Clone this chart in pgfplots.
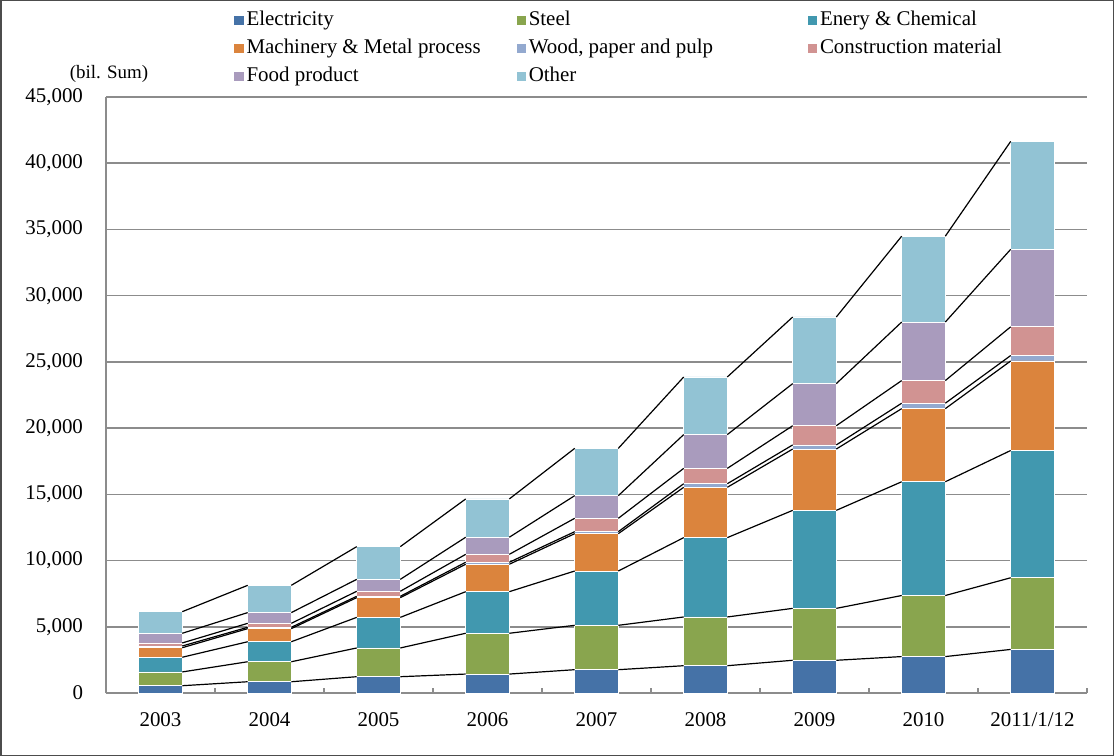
\documentclass[border=0pt]{standalone}
\usepackage{fontspec}
\setmainfont{Liberation Serif}
\usepackage{pgfplots}
\pgfplotsset{compat=1.18}
\usepackage{pgfplotstable}
\definecolor{cElec}{HTML}{4572A7}
\definecolor{cSteel}{HTML}{89A54E}
\definecolor{cEnergy}{HTML}{4198AF}
\definecolor{cMach}{HTML}{DB843D}
\definecolor{cWood}{HTML}{93A9CF}
\definecolor{cConstr}{HTML}{D19392}
\definecolor{cFood}{HTML}{A99BBD}
\definecolor{cOther}{HTML}{92C3D4}
\definecolor{cGrid}{HTML}{8C8C8C}

\pgfplotstableread{
x elec steel energy mach wood constr food other
0 550 1040 1110 720 130 230 730 1630
1 850 1510 1510 990 100 300 810 2060
2 1230 2170 2310 1490 100 380 900 2470
3 1430 3080 3140 2070 150 600 1290 2890
4 1760 3350 4100 2820 150 1010 1710 3570
5 2060 3680 5990 3800 270 1160 2550 4350
6 2470 3920 7400 4630 310 1450 3180 5030
7 2750 4610 8590 5520 410 1710 4420 6480
8 3290 5410 9610 6760 410 2170 5850 8150
}\segs

% cumulative tops, used for the series lines between bars
\pgfplotstableread{
x c1 c2 c3 c4 c5 c6 c7 c8
0.2 550 1590 2700 3420 3550 3780 4510 6140
0.8 850 2360 3870 4860 4960 5260 6070 8130
nan nan nan nan nan nan nan nan nan
1.2 850 2360 3870 4860 4960 5260 6070 8130
1.8 1230 3400 5710 7200 7300 7680 8580 11050
nan nan nan nan nan nan nan nan nan
2.2 1230 3400 5710 7200 7300 7680 8580 11050
2.8 1430 4510 7650 9720 9870 10470 11760 14650
nan nan nan nan nan nan nan nan nan
3.2 1430 4510 7650 9720 9870 10470 11760 14650
3.8 1760 5110 9210 12030 12180 13190 14900 18470
nan nan nan nan nan nan nan nan nan
4.2 1760 5110 9210 12030 12180 13190 14900 18470
4.8 2060 5740 11730 15530 15800 16960 19510 23860
nan nan nan nan nan nan nan nan nan
5.2 2060 5740 11730 15530 15800 16960 19510 23860
5.8 2470 6390 13790 18420 18730 20180 23360 28390
nan nan nan nan nan nan nan nan nan
6.2 2470 6390 13790 18420 18730 20180 23360 28390
6.8 2750 7360 15950 21470 21880 23590 28010 34490
nan nan nan nan nan nan nan nan nan
7.2 2750 7360 15950 21470 21880 23590 28010 34490
7.8 3290 8700 18310 25070 25480 27650 33500 41650
}\cums

\newcommand{\lfont}{\fontsize{10.5}{12.6}\selectfont}
\newcommand{\la}[1]{\makebox[134bp][l]{#1}}
\newcommand{\lb}[1]{\makebox[138.5bp][l]{#1}}

\pgfplotsset{
  common/.style={
    at={(53bp,31.5bp)}, anchor=south west,
    scale only axis, width=490.5bp, height=298bp,
    xmin=-0.5, xmax=8.5, ymin=0, ymax=45000,
  },
  sqlegend/.style={legend image code/.code={\fill[##1,draw=none] (0bp,-2.3bp) rectangle (4.6bp,2.3bp);}},
}

\begin{document}
\begin{tikzpicture}
\draw[draw=black!70, line width=0.75bp] (0.375bp,0.375bp) rectangle (556.625bp,377.625bp);

\begin{axis}[common,
  ybar stacked, bar width=0.4,
  every axis plot post/.append style={sqlegend},
  clip=false,
  axis x line*=bottom, axis y line*=left,
  axis line style={draw=cGrid, line width=0.75bp},
  ymajorgrids, grid style={draw=cGrid, line width=0.75bp},
  ytick={0,5000,...,45000},
  scaled y ticks=false,
  yticklabel style={/pgf/number format/fixed, /pgf/number format/1000 sep={,}, /pgf/number format/assume math mode=true, xshift=-8bp},
  ytick style={draw=none},
  xtick={0,...,8},
  xticklabels={2003,2004,2005,2006,2007,2008,2009,2010,2011/1/12},
  major x tick style={draw=none},
  minor xtick={-0.5,0.5,...,8.5},
  minor x tick style={draw=cGrid, line width=0.75bp},
  minor tick length=2.5bp,
  xtick align=inside,
  tick label style={font=\lfont},
  xticklabel style={yshift=-6.5bp},
  legend columns=3,
  legend cell align=left,
  legend style={draw=none, fill=none, inner sep=0pt, font=\lfont,
    at={(rel axis cs:0,1)}, anchor=north west, xshift=64bp, yshift=44bp,
    row sep=3bp,
    nodes={inner sep=1bp, text height=7bp, text depth=2bp},
    /tikz/every odd column/.append style={column sep=0.5bp},
    /tikz/every even column/.append style={column sep=0pt}},
]
\addplot[fill=cElec, draw=white, line width=0.3bp] table[x=x,y=elec]{\segs};
\addlegendentry{\la{Electricity}}
\addplot[fill=cSteel, draw=white, line width=0.3bp] table[x=x,y=steel]{\segs};
\addlegendentry{\lb{Steel}}
\addplot[fill=cEnergy, draw=white, line width=0.3bp] table[x=x,y=energy]{\segs};
\addlegendentry{Enery \& Chemical}
\addplot[fill=cMach, draw=white, line width=0.3bp] table[x=x,y=mach]{\segs};
\addlegendentry{\la{Machinery \& Metal process}}
\addplot[fill=cWood, draw=white, line width=0.3bp] table[x=x,y=wood]{\segs};
\addlegendentry{\lb{Wood, paper and pulp}}
\addplot[fill=cConstr, draw=white, line width=0.3bp] table[x=x,y=constr]{\segs};
\addlegendentry{Construction material}
\addplot[fill=cFood, draw=white, line width=0.3bp] table[x=x,y=food]{\segs};
\addlegendentry{\la{Food product}}
\addplot[fill=cOther, draw=white, line width=0.3bp] table[x=x,y=other]{\segs};
\addlegendentry{\lb{Other}}
\node[font=\fontsize{9.5}{11}\selectfont] at (rel axis cs:0,1) [xshift=1.5bp, yshift=11.5bp] {(bil. Sum)};
\end{axis}

\begin{axis}[common, hide axis, unbounded coords=jump]
\addplot[black, line width=0.6bp, mark=none] table[x=x,y=c1]{\cums};
\addplot[black, line width=0.6bp, mark=none] table[x=x,y=c2]{\cums};
\addplot[black, line width=0.6bp, mark=none] table[x=x,y=c3]{\cums};
\addplot[black, line width=0.6bp, mark=none] table[x=x,y=c4]{\cums};
\addplot[black, line width=0.6bp, mark=none] table[x=x,y=c5]{\cums};
\addplot[black, line width=0.6bp, mark=none] table[x=x,y=c6]{\cums};
\addplot[black, line width=0.6bp, mark=none] table[x=x,y=c7]{\cums};
\addplot[black, line width=0.6bp, mark=none] table[x=x,y=c8]{\cums};
\end{axis}
\end{tikzpicture}
\end{document}
